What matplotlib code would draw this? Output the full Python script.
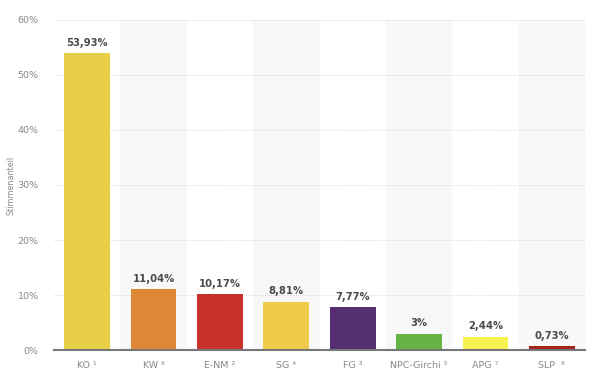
import matplotlib.pyplot as plt
import numpy as np

parteien = ["KO \u00b9", "KW \u2076", "E-NM \u00b2", "SG \u2074", "FG \u00b3",
            "NPC-Girchi \u2075", "APG \u2077", "SLP  \u2078"]
anteile = [53.93, 11.04, 10.17, 8.81, 7.77, 3.0, 2.44, 0.73]
beschriftung = ["53,93%", "11,04%", "10,17%", "8,81%", "7,77%", "3%", "2,44%", "0,73%"]
farben = ["#E8CF48", "#DE8835", "#C9322C", "#EFCB4B", "#552F72",
          "#66B346", "#F7F250", "#A8231E"]
y_ticks = [0, 10, 20, 30, 40, 50, 60]

fig = plt.figure(figsize=(6, 3.81), dpi=100)
ax = fig.add_axes([0.09, 0.081, 0.885, 0.867])

x = np.arange(len(parteien))
# abwechselnde graue Streifen
for i in x:
    if i % 2 == 1:
        ax.axvspan(i - 0.5, i + 0.5, ymax=1, color="#f8f8f8", zorder=0, lw=0)

ax.bar(x, anteile, width=0.69, color=farben, zorder=3)
for i, v in enumerate(anteile):
    ax.text(i, v + 1.0, beschriftung[i], ha="center", va="bottom",
            fontsize=7.2, fontweight="bold", color="#4a4a4a", zorder=4)

ax.set_xlim(-0.5, len(parteien) - 0.5)
ax.set_ylim(0, 60)
ax.set_yticks(y_ticks)
ax.set_yticklabels([f"{t}%" for t in y_ticks])
ax.set_xticks(x)
ax.set_xticklabels(parteien)
ax.tick_params(axis="both", length=0, labelsize=6.8, colors="#888888")
ax.tick_params(axis="x", pad=8)
ax.tick_params(axis="y", pad=11)
ax.yaxis.grid(True, linestyle=(0, (1, 1.5)), color="#cfcfcf", lw=0.6, zorder=1)
ax.set_axisbelow(True)
for s in ["top", "right", "left"]:
    ax.spines[s].set_visible(False)
ax.spines["bottom"].set_color("#777777")
ax.spines["bottom"].set_linewidth(1.5)
ax.spines["bottom"].set_zorder(5)
ax.set_ylabel("Stimmenanteil", fontsize=5.8, color="#888888")
ax.yaxis.set_label_coords(-0.073, 0.5)

plt.savefig("out.png", dpi=100)
